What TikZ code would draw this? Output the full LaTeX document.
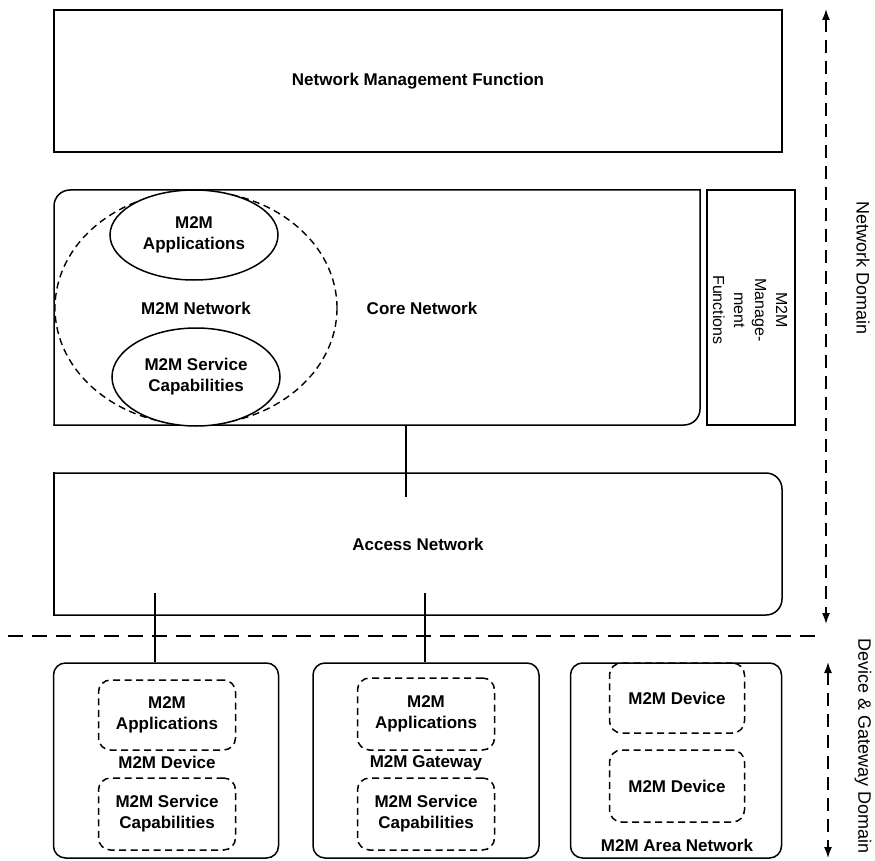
\documentclass[tikz,border=0pt]{standalone}
\usepackage{fontspec}
\setmainfont{Liberation Sans}
\usetikzlibrary{arrows.meta,shapes.geometric}
\begin{document}
\begin{tikzpicture}[x=1pt,y=-1pt,
  frame/.style={draw, line width=1.5pt, inner sep=0pt, line cap=rect},
  holder/.style={inner sep=0pt, outer sep=0pt},
  lbl/.style={font=\fontsize{17}{21}\selectfont\bfseries, align=center, inner sep=0pt},
  side/.style={font=\fontsize{18}{21}\selectfont, inner sep=0pt, rotate=-90},
  oval/.style={ellipse, draw, line width=1.5pt, inner sep=0pt, align=center,
    font=\fontsize{17}{21}\selectfont\bfseries},
  dbox/.style={draw, line width=1.5pt, dash pattern=on 7pt off 4.5pt,
    rounded corners=12pt, inner sep=0pt, align=center,
    font=\fontsize{17}{21}\selectfont\bfseries},
  unit/.style={draw, line width=1.5pt, rounded corners=12pt, inner sep=0pt,
    minimum height=195pt},
  link/.style={line width=1.1pt},
  span/.style={line width=1.5pt, dash pattern=on 13pt off 8pt,
    {Latex[length=11pt,width=8pt]}-{Latex[length=11pt,width=8pt]}}
]
\useasboundingbox (0,0) rectangle (875,861);

% Network management function
\node[frame, lbl, minimum width=728pt, minimum height=142pt] (nmf) at (418,81)
  {Network Management Function};

% Core network with the M2M network inside it
\node[holder, minimum width=646pt, minimum height=235pt] (core) at (377,307.5) {};
\draw[line width=1.5pt, rounded corners=16pt, line cap=rect]
  (core.south west) -- (core.north west) -- (core.north east);
\draw[line width=1.5pt, rounded corners=16pt, line cap=rect]
  (core.north east) -- (core.south east) -- (core.south west);
\node[lbl] (corelbl) at (422,308) {Core Network};

\node[ellipse, draw, line width=1.4pt, dash pattern=on 7pt off 4.5pt,
  minimum width=282pt, minimum height=234pt, inner sep=0pt,
  font=\fontsize{17}{21}\selectfont\bfseries] (m2mnet) at (196,308) {M2M Network};
\node[oval, minimum width=168pt, minimum height=90pt, fill=white] (napp) at (194,235)
  {M2M\\Applications};
\node[oval, minimum width=168pt, minimum height=98pt, fill=white] (nsc) at (196,377)
  {M2M Service\\Capabilities};

% M2M management functions
\node[frame, minimum width=88pt, minimum height=235pt] (mmf) at (751,307.5) {};
\node[font=\fontsize{16}{21}\selectfont, align=center, inner sep=0pt, rotate=-90]
  (mmflbl) at (750,310) {M2M\\Manage-\\ment\\Functions};

% Access network
\node[holder, minimum width=728pt, minimum height=142pt] (acc) at (418,544) {};
\draw[line width=1.5pt, rounded corners=16pt, line cap=rect]
  (acc.north west) -- (acc.north east) -- (acc.south east) -- (acc.south west);
\draw[line width=1.5pt, line cap=rect] (acc.south west) -- (acc.north west);
\node[lbl] (acclbl) at (acc.center) {Access Network};

% Domain border
\coordinate (bl) at (8,636);
\coordinate (br) at (815,636);
\draw[line width=1.5pt, dash pattern=on 15pt off 9pt] (bl) -- (br);

% Device, gateway and area network
\node[unit, minimum width=225pt] (dev) at (166,760.5) {};
\node[unit, minimum width=226pt] (gw) at (426,760.5) {};
\node[unit, minimum width=211pt] (area) at (676,760.5) {};

\node[dbox, minimum width=137pt, minimum height=70pt] (dapp) at (167,715) {M2M\\Applications};
\node[lbl] (devlbl) at (167,762) {M2M Device};
\node[dbox, minimum width=137pt, minimum height=72pt] (dsc) at (167,814) {M2M Service\\Capabilities};

\node[dbox, minimum width=137pt, minimum height=72pt] (gapp) at (426,714) {M2M\\Applications};
\node[lbl] (gwlbl) at (426,763) {M2M Gateway};
\node[dbox, minimum width=137pt, minimum height=72pt] (gsc) at (426,814) {M2M Service\\Capabilities};

\node[dbox, minimum width=135pt, minimum height=70pt] (ad1) at (677,698) {M2M Device};
\node[dbox, minimum width=135pt, minimum height=72pt] (ad2) at (677,786) {M2M Device};
\node[lbl] (arealbl) at (677,845) {M2M Area Network};

% Links
\coordinate (ca) at (406,497);
\coordinate (ad) at (155,593);
\coordinate (ag) at (425,593);
\draw[link] (core.south -| ca) -- (ca);
\draw[link] (ad) -- (ad |- dev.north);
\draw[link] (ag) -- (ag |- gw.north);

% Domain extents
\coordinate (n1) at (826,9);
\coordinate (n2) at (826,624);
\coordinate (g1) at (828,662);
\coordinate (g2) at (828,858);
\draw[span] (n1) -- (n2);
\draw[span] (g1) -- (g2);
\node[side] (ndom) at (863,268) {Network Domain};
\node[side] (gdom) at (863,746) {Device \& Gateway Domain};
\end{tikzpicture}
\end{document}
